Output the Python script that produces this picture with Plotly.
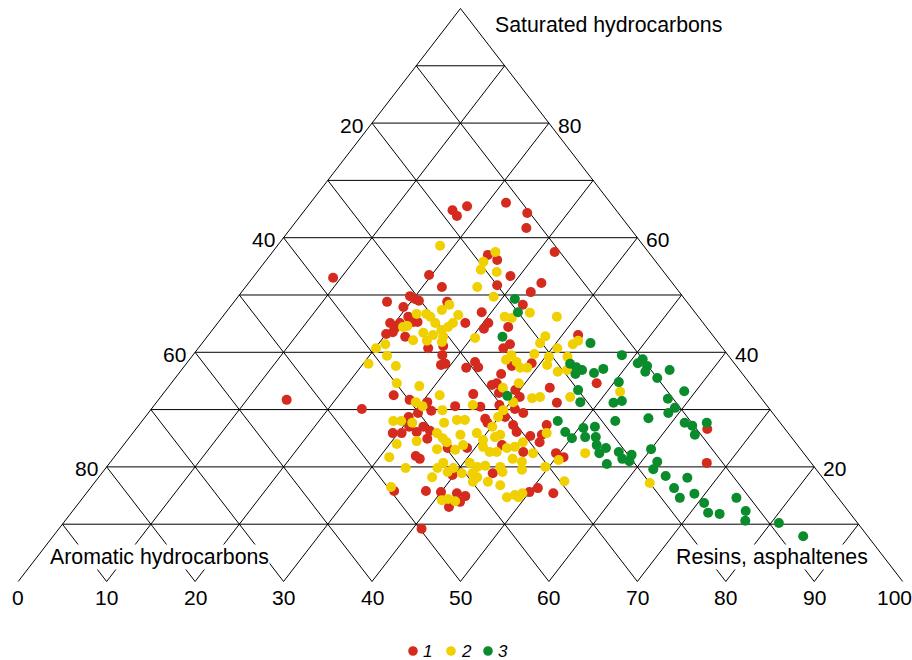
import plotly.graph_objects as go

# ---------------- data (ternary percentages) ----------------
# resins/asphaltenes %, saturated hydrocarbons %  (aromatic = 100 - both)
red_resins = [16.7, 17.7, 18.0, 22.1, 25.4, 26.6, 31.9, 24.6, 26.1, 29.0, 28.3, 33.1, 32.7, 32.9, 28.9,
              9.1, 19.7, 22.2, 19.4, 20.2, 20.8, 17.3, 19.6, 24.1, 21.0, 19.5, 20.5, 20.0, 20.6, 20.6,
              22.0, 22.5, 22.4, 27.5, 26.0, 28.2, 28.9, 29.3, 28.0, 32.0, 26.2, 28.4, 30.6, 23.8, 31.8,
              34.1, 30.5, 29.8, 30.6, 30.6, 33.2, 34.9, 34.5, 41.8, 37.0, 32.5, 33.3, 39.0, 36.5, 36.4,
              36.8, 39.5, 40.6, 37.9, 43.2, 35.1, 37.0, 39.0, 41.1, 42.4, 45.3, 38.6, 40.7, 48.1, 64.6,
              67.5, 14.5, 29.4, 30.4, 30.7, 32.0, 32.3, 33.4, 33.8, 34.0, 34.7, 36.9, 39.1, 39.8, 34.6,
              38.2, 40.0, 41.9, 43.1, 43.0, 42.2, 41.0, 39.2, 42.3, 43.3, 42.8, 45.8, 45.2, 46.4, 46.8,
              46.1, 49.6, 50.8, 44.2, 50.6, 50.0, 52.8]
red_saturated = [64.8, 63.8, 65.5, 66.1, 64.3, 61.7, 57.5, 57.0, 56.1, 53.3, 51.7, 52.1, 50.5, 48.3, 47.0,
                 53.0, 53.5, 51.4, 49.8, 49.3, 49.0, 48.8, 47.9, 48.8, 46.2, 45.1, 44.2, 43.2, 43.5, 45.1,
                 45.3, 45.3, 42.7, 41.1, 40.7, 39.5, 37.8, 38.0, 45.1, 37.3, 32.5, 31.7, 31.3, 30.1, 29.8,
                 30.6, 29.4, 28.7, 44.1, 45.1, 44.4, 41.4, 40.7, 43.0, 37.6, 38.3, 37.4, 38.1, 36.2, 34.3,
                 34.6, 33.4, 32.2, 32.9, 33.8, 32.7, 30.5, 30.8, 30.1, 29.4, 31.2, 28.4, 28.7, 34.6, 26.6,
                 20.7, 31.7, 25.9, 25.9, 27.0, 26.1, 27.0, 26.3, 24.9, 21.9, 21.4, 23.3, 23.3, 18.6, 15.8,
                 15.8, 15.6, 15.4, 14.9, 13.9, 13.0, 9.2, 27.7, 27.3, 26.1, 23.8, 22.6, 25.4, 25.6, 24.3,
                 27.3, 22.4, 21.7, 18.9, 16.3, 15.6, 15.4]

yellow_resins = [18.4, 25.2, 24.7, 25.1, 27.1, 26.2, 28.9, 34.4, 37.8, 31.9, 32.8, 26.5, 24.2, 24.6, 21.7,
                 22.8, 23.5, 21.3, 21.7, 23.6, 24.1, 25.4, 25.2, 24.6, 25.9, 26.7, 27.0, 26.4, 26.6, 20.1,
                 20.8, 22.0, 20.6, 23.9, 25.5, 28.3, 31.4, 29.3, 30.4, 33.0, 29.3, 28.4, 35.5, 36.4, 30.4,
                 38.2, 38.2, 40.6, 42.0, 42.3, 36.0, 35.8, 37.2, 38.1, 38.5, 38.9, 40.4, 40.9, 42.7, 42.5,
                 43.6, 39.3, 37.9, 42.1, 42.9, 46.3, 36.0, 40.3, 39.9, 39.9, 51.5, 62.8, 30.7, 30.8, 32.8,
                 31.1, 33.9, 34.4, 35.5, 36.3, 35.8, 34.3, 37.2, 38.4, 37.9, 37.7, 37.5, 39.0, 39.3, 40.7,
                 37.7, 33.9, 40.8, 41.4, 42.4, 38.9, 40.1, 41.7, 41.3, 40.2, 40.8, 42.0, 42.8, 43.6, 44.4,
                 44.9, 46.8, 50.5, 52.9, 47.0, 45.2, 46.5, 49.6, 47.2, 40.7, 41.9, 42.7, 44.5, 45.2, 41.9,
                 42.8, 42.7, 44.4, 46.1, 53.0, 49.3, 48.6, 47.9, 49.2]
yellow_saturated = [58.6, 57.5, 55.8, 54.4, 54.0, 51.4, 49.7, 46.9, 46.2, 46.2, 46.0, 46.5, 47.4, 48.3, 46.7,
                    46.7, 46.2, 44.4, 44.6, 42.1, 43.4, 43.0, 42.0, 45.1, 43.9, 42.7, 41.8, 44.4, 45.1, 40.7,
                    41.4, 39.4, 38.0, 37.6, 34.6, 34.1, 32.5, 31.3, 30.6, 29.9, 28.0, 28.0, 28.2, 28.2, 42.5,
                    42.8, 41.6, 40.7, 41.4, 42.0, 39.5, 38.7, 38.3, 37.3, 39.7, 37.3, 39.2, 37.8, 36.6, 39.2,
                    36.9, 34.6, 33.8, 32.0, 32.2, 32.2, 30.8, 31.3, 29.9, 28.7, 33.1, 17.2, 27.7, 24.0, 24.5,
                    21.7, 19.8, 25.9, 25.0, 24.3, 23.1, 27.7, 25.6, 23.8, 23.0, 20.7, 19.8, 19.1, 19.8, 18.9,
                    18.2, 16.5, 14.2, 14.4, 14.0, 25.9, 27.0, 25.6, 25.2, 24.7, 23.5, 22.6, 22.6, 23.3, 23.5,
                    24.3, 25.9, 21.2, 22.4, 22.4, 21.4, 20.9, 20.0, 19.5, 20.7, 20.0, 20.2, 20.0, 19.1, 18.9,
                    18.2, 17.4, 17.4, 16.8, 17.5, 15.4, 15.1, 14.7, 14.7]

green_resins = [31.5, 33.0, 33.4, 43.9, 43.4, 44.4, 45.3, 44.9, 39.1, 46.6, 47.9, 47.0, 48.5, 51.2, 51.0,
                52.3, 52.6, 55.2, 54.5, 46.9, 47.6, 50.5, 51.7, 52.5, 58.7, 57.5, 59.1, 58.8, 57.0, 53.5,
                51.7, 61.5, 62.6, 64.0, 52.7, 53.5, 54.5, 54.8, 56.6, 57.6, 58.3, 58.6, 60.0, 63.7, 56.3,
                61.8, 62.0, 64.0, 66.6, 66.0, 68.8, 67.5, 70.7, 73.9, 72.0, 73.4, 76.1, 76.9, 80.9, 84.8,
                48.8, 50.1, 50.5, 51.5]
green_saturated = [49.3, 47.0, 42.7, 41.6, 38.0, 37.4, 36.9, 36.2, 32.4, 33.4, 31.3, 28.0, 39.5, 38.8, 38.1,
                   37.6, 36.6, 36.9, 35.5, 36.4, 37.1, 34.8, 31.2, 31.5, 33.2, 31.9, 30.3, 29.4, 28.5, 28.0,
                   27.0, 27.7, 27.2, 27.7, 25.2, 23.8, 22.4, 23.3, 22.6, 21.4, 22.1, 21.0, 23.1, 25.6, 20.5,
                   20.9, 19.6, 18.4, 18.1, 16.3, 15.3, 14.6, 13.7, 14.6, 12.0, 11.8, 12.3, 10.6, 10.2, 7.9,
                   26.1, 25.0, 26.8, 25.2]

group_names = ["1", "2", "3"]
group_colors = ["#d52b1e", "#f0d000", "#0a8c2d"]

bottom_ticks = [0, 10, 20, 30, 40, 50, 60, 70, 80, 90, 100]   # resins, asphaltenes
left_ticks = [20, 40, 60, 80]                                  # aromatic hydrocarbons
right_ticks = [20, 40, 60, 80]                                 # saturated hydrocarbons
grid_steps = [10, 20, 30, 40, 50, 60, 70, 80, 90]

FONT = "Liberation Sans, Arial, sans-serif"
W, H = 912, 660
TICK_SIZE = 21
TITLE_SIZE = 21.3


def to_xy(resins, saturated):
    xs = [r + s / 2.0 for r, s in zip(resins, saturated)]
    return xs, list(saturated)


# ---------------- grid lines ----------------
gx, gy = [], []
# outer edges (left and right sides; no base line)
gx += [0, 50, 100, None]
gy += [0, 100, 0, None]
for v in grid_steps:
    # constant saturated (horizontal)
    gx += [v / 2.0, 100 - v / 2.0, None]
    gy += [v, v, None]
    # constant resins (parallel to left edge)
    gx += [v, v + (100 - v) / 2.0, None]
    gy += [0, 100 - v, None]
    # constant aromatic (parallel to right edge)
    gx += [100 - v, (100 - v) / 2.0, None]
    gy += [0, 100 - v, None]

fig = go.Figure()
fig.add_trace(go.Scatter(x=gx, y=gy, mode="lines", line=dict(color="black", width=1),
                         hoverinfo="skip", showlegend=False))

for name, color, rr, ss in [
    (group_names[0], group_colors[0], red_resins, red_saturated),
    (group_names[1], group_colors[1], yellow_resins, yellow_saturated),
    (group_names[2], group_colors[2], green_resins, green_saturated),
]:
    xs, ys = to_xy(rr, ss)
    arom = [round(100 - r - s, 1) for r, s in zip(rr, ss)]
    fig.add_trace(go.Scatter(
        x=xs, y=ys, mode="markers", name=name, showlegend=False,
        marker=dict(color=color, size=10, line=dict(width=0)),
        customdata=list(zip(rr, ss, arom)),
        hovertemplate="Resins: %{customdata[0]}<br>Saturated: %{customdata[1]}<br>Aromatic: %{customdata[2]}<extra>" + name + "</extra>",
    ))

annotations = []
# bottom axis labels (resins, asphaltenes)
for t in bottom_ticks:
    annotations.append(dict(x=t, y=0, xref="x", yref="y", text=str(t), showarrow=False,
                            xanchor="center", yanchor="middle", yshift=-16,
                            xshift=(-8 if t == 100 else 0),
                            font=dict(family=FONT, size=TICK_SIZE, color="black")))
# left labels (aromatic)
for t in left_ticks:
    s = 100 - t
    annotations.append(dict(x=s / 2.0, y=s, xref="x", yref="y", text=str(t), showarrow=False,
                            xanchor="right", yanchor="middle", xshift=-7, yshift=-2,
                            font=dict(family=FONT, size=TICK_SIZE, color="black")))
# right labels (saturated)
for t in right_ticks:
    annotations.append(dict(x=100 - t / 2.0, y=t, xref="x", yref="y", text=str(t), showarrow=False,
                            xanchor="left", yanchor="middle", xshift=7, yshift=-2,
                            font=dict(family=FONT, size=TICK_SIZE, color="black")))
# vertex titles
annotations.append(dict(x=493 / W, y=1 - 25 / H, xref="paper", yref="paper",
                        text="Saturated hydrocarbons", showarrow=False, xanchor="left", yanchor="middle",
                        font=dict(family=FONT, size=TITLE_SIZE, color="black")))
annotations.append(dict(x=159 / W, y=1 - 557 / H, xref="paper", yref="paper",
                        text="Aromatic hydrocarbons", showarrow=False, xanchor="center", yanchor="middle",
                        bgcolor="white", borderpad=0,
                        font=dict(family=FONT, size=TITLE_SIZE, color="black")))
annotations.append(dict(x=772 / W, y=1 - 557 / H, xref="paper", yref="paper",
                        text="Resins, asphaltenes", showarrow=False, xanchor="center", yanchor="middle",
                        bgcolor="white", borderpad=0,
                        font=dict(family=FONT, size=TITLE_SIZE, color="black")))

# manual legend
shapes = []
leg_dot_x = [413, 451, 488]
leg_txt_x = [427, 466, 503]
leg_y = 651
for i in range(3):
    shapes.append(dict(type="circle", xref="paper", yref="paper",
                       xsizemode="pixel", ysizemode="pixel",
                       xanchor=leg_dot_x[i] / W, yanchor=1 - leg_y / H,
                       x0=-4.8, x1=4.8, y0=-4.8, y1=4.8,
                       fillcolor=group_colors[i], line=dict(width=0)))
    annotations.append(dict(x=leg_txt_x[i] / W, y=1 - leg_y / H, xref="paper", yref="paper",
                            text=group_names[i], showarrow=False, xanchor="center", yanchor="middle",
                            font=dict(family=FONT, size=17, color="black", style="italic")))

# axis ranges chosen so that 0..100 spans the triangle base
x_lo, x_hi = -2.058, 101.05
y_lo, y_hi = -13.70, 101.48

fig.update_layout(
    width=W, height=H,
    margin=dict(l=0, r=0, t=0, b=0),
    paper_bgcolor="white", plot_bgcolor="white",
    xaxis=dict(range=[x_lo, x_hi], visible=False, fixedrange=True),
    yaxis=dict(range=[y_lo, y_hi], visible=False, fixedrange=True),
    showlegend=False,
    annotations=annotations,
    shapes=shapes,
)

fig.write_html("out.html")
